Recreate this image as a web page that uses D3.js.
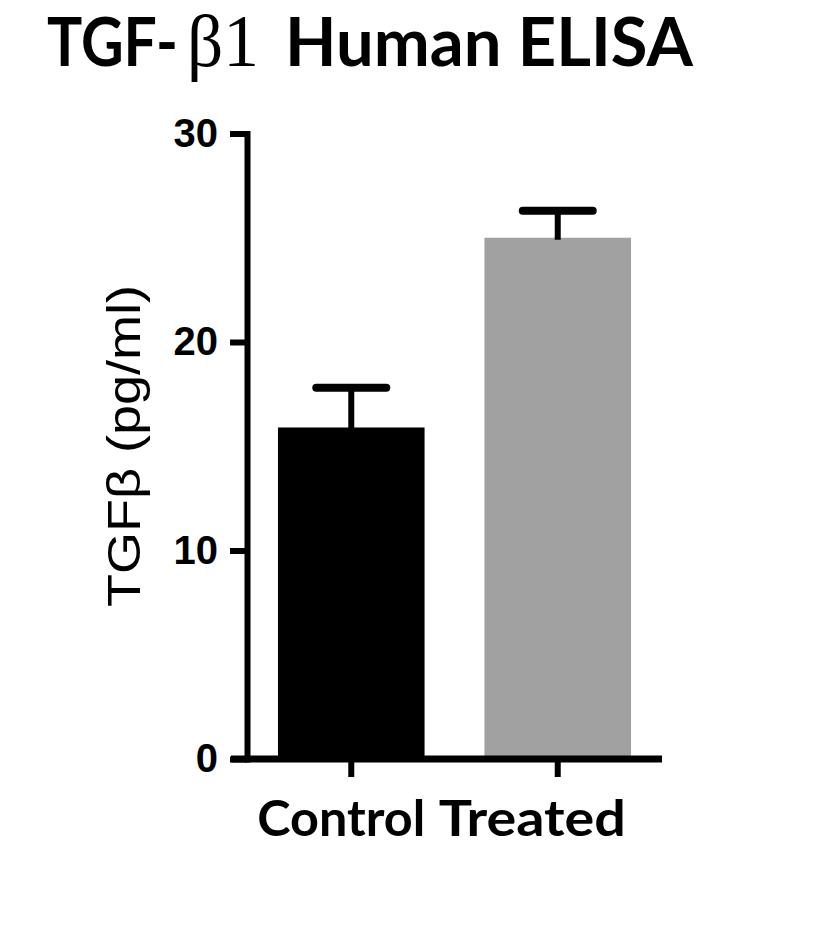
<!DOCTYPE html>
<html>
<head>
<meta charset="utf-8">
<script src="https://cdn.jsdelivr.net/npm/d3@7"></script>
<style>
  body { margin: 0; background: #fff; }
  svg { display: block; }
</style>
</head>
<body>
<div id="chart"></div>
<script>
// data
const categories = ['Control', 'Treated'];
const means = [15.9, 25.0];
const errors = [1.9, 1.3];
const barColors = ['#000000', '#a1a1a1'];
const yTicks = [0, 10, 20, 30];

const W = 815, H = 926;

const svg = d3.select('#chart')
    .append('svg')
    .attr('width', W)
    .attr('height', H);

const data = categories.map((c, i) => ({ name: c, mean: means[i], err: errors[i], color: barColors[i] }));

// scales
const x = d3.scaleBand()
    .domain(categories)
    .range([247, 662])
    .paddingInner(0.29)
    .paddingOuter(0.15);

const y = d3.scaleLinear()
    .domain([0, 30])
    .range([759, 133.5]);

// bars
svg.selectAll('.bar')
    .data(data)
    .enter()
    .append('rect')
    .attr('class', 'bar')
    .attr('x', d => x(d.name))
    .attr('y', d => y(d.mean))
    .attr('width', x.bandwidth())
    .attr('height', d => y(0) - y(d.mean))
    .attr('fill', d => d.color);

// error bars (upper only)
const capW = 70;
const err = svg.selectAll('.err')
    .data(data)
    .enter()
    .append('g')
    .attr('class', 'err');

err.append('line')
    .attr('x1', d => x(d.name) + x.bandwidth() / 2)
    .attr('x2', d => x(d.name) + x.bandwidth() / 2)
    .attr('y1', d => y(d.mean) + 2)
    .attr('y2', d => y(d.mean + d.err))
    .attr('stroke', '#000')
    .attr('stroke-width', 6);

err.append('line')
    .attr('x1', d => x(d.name) + x.bandwidth() / 2 - capW / 2)
    .attr('x2', d => x(d.name) + x.bandwidth() / 2 + capW / 2)
    .attr('y1', d => y(d.mean + d.err))
    .attr('y2', d => y(d.mean + d.err))
    .attr('stroke', '#000')
    .attr('stroke-width', 8)
    .attr('stroke-linecap', 'round');

// y axis
const yAxis = svg.append('g')
    .attr('class', 'y-axis')
    .attr('transform', 'translate(247,0)')
    .call(d3.axisLeft(y).tickValues(yTicks).tickSize(17).tickSizeOuter(0).tickPadding(12));

yAxis.select('.domain')
    .attr('stroke', '#000')
    .attr('stroke-width', 6)
    .attr('stroke-linecap', 'square');
yAxis.selectAll('.tick line')
    .attr('stroke', '#000')
    .attr('stroke-width', 6);
yAxis.selectAll('.tick text')
    .attr('fill', '#000')
    .style('font-family', '"Liberation Sans", Arial, sans-serif')
    .style('font-weight', 'bold')
    .style('font-size', '40px');

// x axis; the category names sit a little left of their ticks in the original
const labelBox = { Control: [-94, 168], Treated: [-119, 187] };
const xAxis = svg.append('g')
    .attr('class', 'x-axis')
    .attr('transform', `translate(0,${y(0)})`)
    .call(d3.axisBottom(x).tickSize(18).tickSizeOuter(0).tickPadding(24));

xAxis.select('.domain')
    .attr('d', 'M231,0H662')
    .attr('stroke', '#000')
    .attr('stroke-width', 7);
xAxis.selectAll('.tick line')
    .attr('stroke', '#000')
    .attr('stroke-width', 6);
xAxis.selectAll('.tick text')
    .attr('fill', '#000')
    .attr('text-anchor', 'start')
    .attr('x', d => labelBox[d][0])
    .attr('textLength', d => labelBox[d][1])
    .attr('lengthAdjust', 'spacingAndGlyphs')
    .attr('dy', '0.71em')
    .style('font-family', 'Lato, "Open Sans", sans-serif')
    .style('font-weight', 'bold')
    .style('font-size', '49px');

// y axis label
svg.append('text')
    .attr('transform', 'translate(140,446) rotate(-90)')
    .attr('text-anchor', 'middle')
    .attr('textLength', 322)
    .attr('lengthAdjust', 'spacingAndGlyphs')
    .style('font-family', '"Liberation Sans", Arial, sans-serif')
    .style('font-size', '46px')
    .attr('fill', '#000')
    .text('TGFβ (pg/ml)');

// title in three pieces, each squeezed to the width it has in the original
const titleFont = 'Lato, "Open Sans", sans-serif';
const titleParts = [
    { text: 'TGF-', x: 47, w: 131, font: titleFont, weight: 'bold', size: 67 },
    { text: 'β1', x: 187, w: 72, font: '"Liberation Serif", "Times New Roman", serif', weight: 'normal', size: 74 },
    { text: 'Human ELISA', x: 285, w: 408, font: titleFont, weight: 'bold', size: 67 }
];

titleParts.forEach(p => {
    const t = svg.append('text')
        .style('font-family', p.font)
        .style('font-weight', p.weight)
        .style('font-size', p.size + 'px')
        .attr('fill', '#000')
        .text(p.text);
    const natural = t.node().getComputedTextLength();
    t.attr('transform', `translate(${p.x},66) scale(${p.w / natural},1)`);
});
</script>
</body>
</html>
